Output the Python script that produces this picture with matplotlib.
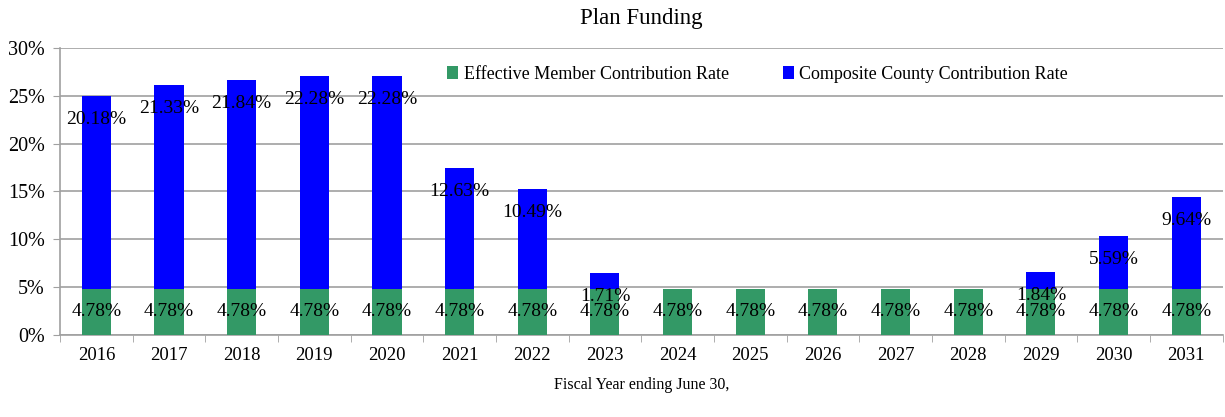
import numpy as np
import matplotlib.pyplot as plt
from matplotlib.ticker import FuncFormatter

# data
years = ["2016", "2017", "2018", "2019", "2020", "2021", "2022", "2023",
         "2024", "2025", "2026", "2027", "2028", "2029", "2030", "2031"]
member_rate = [4.78] * 16
county_rate = [20.18, 21.33, 21.84, 22.28, 22.28, 12.63, 10.49, 1.71,
               0, 0, 0, 0, 0, 1.84, 5.59, 9.64]

GREEN = "#339966"
BLUE = "#0000FF"
GRID = "#A0A0A0"

plt.rcParams["font.family"] = ["Liberation Serif", "DejaVu Serif"]

fig = plt.figure(figsize=(12.25, 4.17), dpi=100)
ax = fig.add_axes([0.049, 0.197, 0.949, 0.688])

x = np.arange(len(years))
member = np.array(member_rate)
county = np.array(county_rate)

ax.bar(x, member, width=0.4, color=GREEN, label="Effective Member Contribution Rate", zorder=3)
ax.bar(x, county, width=0.4, bottom=member, color=BLUE, label="Composite County Contribution Rate", zorder=3)

# labels
for i in range(len(years)):
    ax.text(x[i], member[i] / 2, f"{member[i]:.2f}%", ha="center", va="center",
            fontsize=14, zorder=5)
    if county[i] > 0:
        ax.annotate(f"{county[i]:.2f}%", (x[i], member[i] + county[i]),
                    xytext=(0, -17), textcoords="offset points",
                    ha="center", va="center", fontsize=14, zorder=5)

ax.set_xlim(-0.5, len(years) - 0.5)
ax.set_ylim(0, 30)
ax.set_yticks(np.arange(0, 31, 5))
ax.yaxis.set_major_formatter(FuncFormatter(lambda v, p: f"{v:.0f}%"))
ax.set_xticks(x)
ax.set_xticklabels(years)
ax.set_xticks(np.arange(-0.5, len(years), 1), minor=True)
ax.tick_params(axis="x", which="major", length=0, labelsize=13.5, pad=9)
ax.tick_params(axis="x", which="minor", length=5, color=GRID, direction="out")
ax.tick_params(axis="y", labelsize=14.5, length=5, color=GRID, direction="out", pad=6)

ax.grid(axis="y", color=GRID, linewidth=1.2, zorder=0)
for side in ["top", "right"]:
    ax.spines[side].set_visible(False)
for side in ["left", "bottom"]:
    ax.spines[side].set_color(GRID)
    ax.spines[side].set_linewidth(1.2)

ax.legend(loc="upper center", bbox_to_anchor=(0.60, 0.995), ncol=2, frameon=False,
          fontsize=13, handlelength=0.6, handleheight=0.7, handletextpad=0.3,
          columnspacing=3.0)

cx = 0.049 + 0.949 / 2
fig.text(cx, 0.955, "Plan Funding", ha="center", va="center", fontsize=16.5)
fig.text(cx, 0.077, "Fiscal Year ending June 30,", ha="center", va="center", fontsize=11.5)

fig.savefig("out.png", dpi=100)
